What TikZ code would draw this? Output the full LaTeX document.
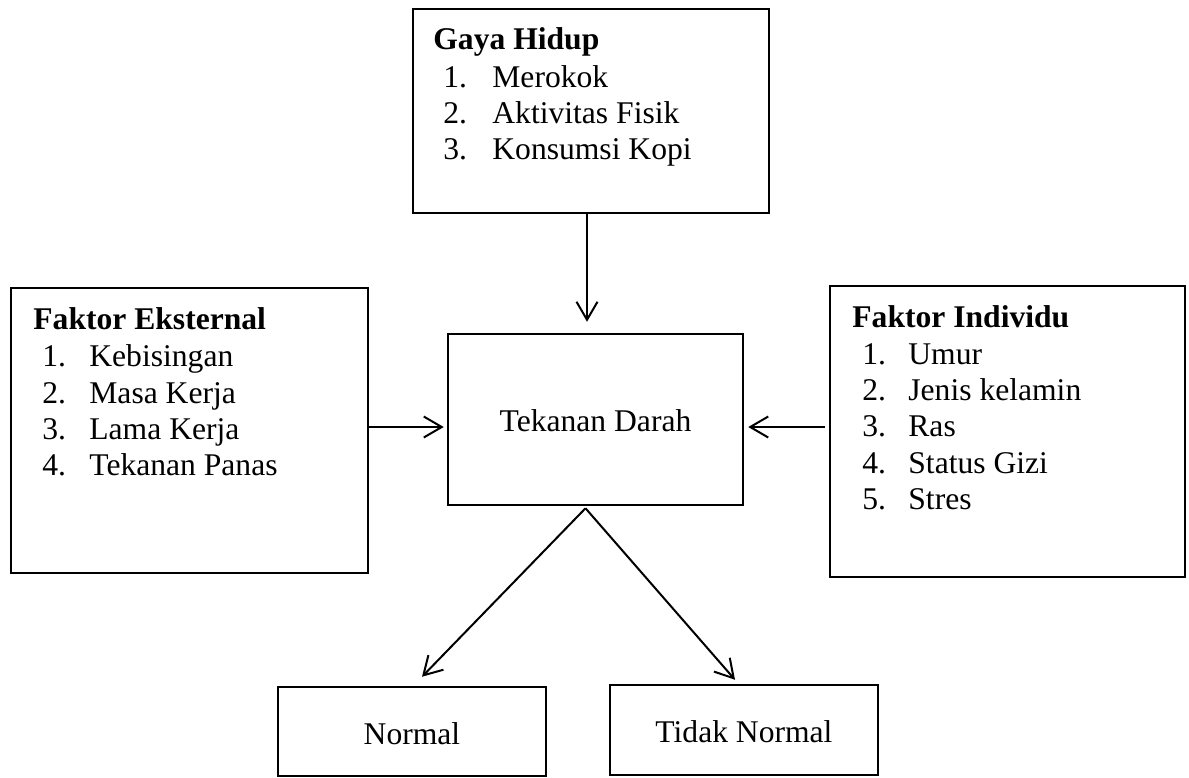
\documentclass[tikz,border=0pt]{standalone}
\usepackage{fontspec}
\setmainfont{Liberation Serif}
\usetikzlibrary{arrows.meta,fit}
\begin{document}
\begin{tikzpicture}[x=0.5pt,y=-0.5pt,
  box/.style={draw, line width=1.25pt, inner sep=0pt},
  txt/.style={anchor=base west, inner sep=0pt, font=\fontsize{15.8pt}{18pt}\selectfont},
  ctxt/.style={txt, anchor=base},
  head/.style={txt, font=\fontsize{15.8pt}{18pt}\selectfont\bfseries},
  arr/.style={line width=1pt, -{Straight Barb[length=9pt,width=10.5pt,line width=1pt]}}]
\useasboundingbox (0,0) rectangle (1189,777);
% boxes
\node[box, fit={(413,9) (769,213)}] (gaya) {};
\node[box, fit={(11,288) (368,573)}] (eks) {};
\node[box, fit={(830,286) (1185,577)}] (ind) {};
\node[box, fit={(448,334) (743,505)}] (tek) {};
\node[box, fit={(278,687) (546,776)}] (norm) {};
\node[box, fit={(610,685) (878,775)}] (tidak) {};
\node[ctxt] (tekt) at (595.5,431) {Tekanan Darah};
\node[ctxt] (normt) at (412,744) {Normal};
\node[ctxt] (tidakt) at (744,742) {Tidak Normal};
% Gaya Hidup
\node[head] (g0) at (433,49) {Gaya Hidup};
\node[txt] (g1n) at (443,87) {1.};  \node[txt] (g1) at (492,87) {Merokok};
\node[txt] (g2n) at (443,123) {2.}; \node[txt] (g2) at (492,123) {Aktivitas Fisik};
\node[txt] (g3n) at (443,159) {3.}; \node[txt] (g3) at (492,159) {Konsumsi Kopi};
% Faktor Eksternal
\node[head] (e0) at (33,329) {Faktor Eksternal};
\node[txt] (e1n) at (42,366) {1.}; \node[txt] (e1) at (89,366) {Kebisingan};
\node[txt] (e2n) at (42,403) {2.}; \node[txt] (e2) at (89,403) {Masa Kerja};
\node[txt] (e3n) at (42,439) {3.}; \node[txt] (e3) at (89,439) {Lama Kerja};
\node[txt] (e4n) at (42,475) {4.}; \node[txt] (e4) at (89,475) {Tekanan Panas};
% Faktor Individu
\node[head] (i0) at (852,327) {Faktor Individu};
\node[txt] (i1n) at (862,364) {1.}; \node[txt] (i1) at (908,364) {Umur};
\node[txt] (i2n) at (862,400) {2.}; \node[txt] (i2) at (908,400) {Jenis kelamin};
\node[txt] (i3n) at (862,436) {3.}; \node[txt] (i3) at (908,436) {Ras};
\node[txt] (i4n) at (862,473) {4.}; \node[txt] (i4) at (908,473) {Status Gizi};
\node[txt] (i5n) at (862,509) {5.}; \node[txt] (i5) at (908,509) {Stres};
% connectors
\coordinate (ty) at (0,427);
\draw[arr, shorten >=5.5pt] ([xshift=-2pt]gaya.south) -- ([xshift=-2pt]gaya.south |- tek.north);
\draw[arr, shorten >=1.5pt] (eks.east |- ty) -- (tek.west |- ty);
\draw[arr, shorten <=2pt, shorten >=2pt] (ind.west |- ty) -- (tek.east |- ty);
\draw[arr] ([xshift=-5pt,yshift=-1pt]tek.south) -- ([xshift=5pt,yshift=4.5pt]norm.north);
\draw[arr] ([xshift=-5pt,yshift=-1pt]tek.south) -- ([xshift=-4.5pt,yshift=2pt]tidak.north);
\end{tikzpicture}
\end{document}
